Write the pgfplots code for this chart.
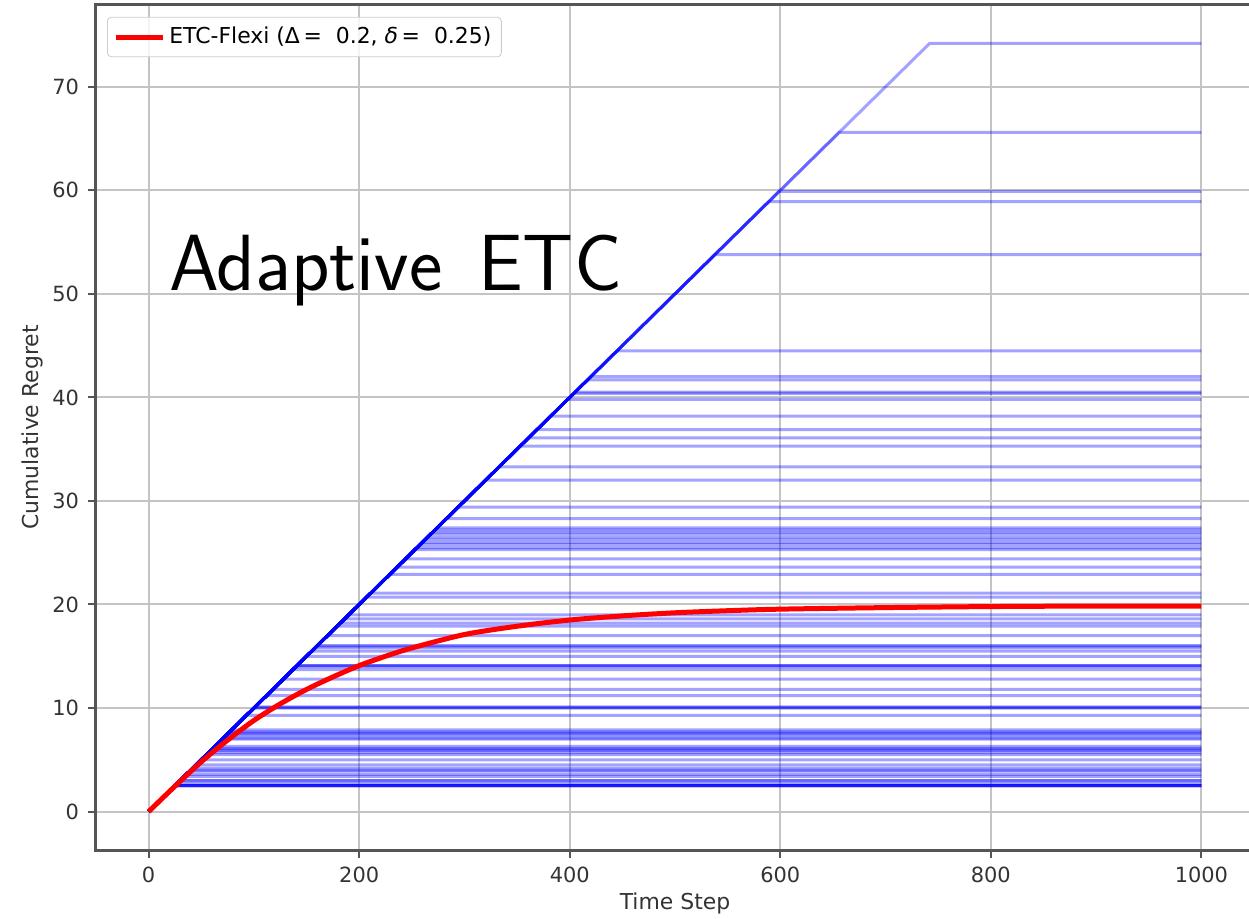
\documentclass[border=0pt]{standalone}
\usepackage{fontspec}
\setmainfont{DejaVu Sans}
\usepackage{pgfplots}
\pgfplotsset{compat=1.18}
\definecolor{gridgray}{HTML}{C4C4C4}
\definecolor{spine}{HTML}{555555}
\begin{document}
\begin{tikzpicture}
\begin{axis}[
  scale only axis,
  at={(48bp,34.5bp)}, anchor=south west,
  width=579bp, height=422.5bp,
  xmin=-50, xmax=1050, ymin=-3.71, ymax=77.9,
  xtick={0,200,400,600,800,1000},
  ytick={0,10,20,30,40,50,60,70},
  xtick pos=bottom, ytick pos=left,
  grid=major,
  major grid style={gridgray, line width=1bp},
  axis line style={spine, line width=1.5bp},
  tick style={spine, line width=1bp},
  tick align=outside,
  major tick length=4bp,
  /pgf/number format/assume math mode=true,
  /pgf/number format/1000 sep={},
  tick label style={font=\fontsize{10.5}{12}\selectfont, text=black!80},
  xticklabel style={yshift=-1bp},
  yticklabel style={xshift=-1bp},
  xlabel={Time Step}, ylabel={Cumulative Regret},
  label style={font=\fontsize{11}{13}\selectfont, text=black!80},
  xlabel style={at={(axis description cs:0.5,-0.0627)}, anchor=center},
  ylabel style={at={(axis description cs:-0.0553,0.5)}, anchor=center},
  legend style={at={(0.0095,0.986)}, anchor=north west, draw=black!20, rounded corners=2bp,
    fill=white, fill opacity=0.8, text opacity=1, font=\fontsize{11}{13}\selectfont,
    inner xsep=3bp, inner ysep=3bp},
  legend cell align=left,
  legend image code/.code={\draw[#1, line width=2.5bp] (0bp,0bp) -- (23.5bp,0bp);},
  bl/.style={blue, opacity=0.36, line width=1.5bp, forget plot},
]
% high
\addplot[bl] coordinates {(0,0)(742,74.2)(1000,74.2)};
\addplot[bl] coordinates {(0,0)(656,65.6)(1000,65.6)};
\addplot[bl] coordinates {(0,0)(599,59.9)(1000,59.9)};
\addplot[bl] coordinates {(0,0)(589,58.9)(1000,58.9)};
\addplot[bl] coordinates {(0,0)(538,53.8)(1000,53.8)};
\addplot[bl] coordinates {(0,0)(445,44.5)(1000,44.5)};
\addplot[bl] coordinates {(0,0)(420,42.0)(1000,42.0)};
\addplot[bl] coordinates {(0,0)(417,41.7)(1000,41.7)};
\addplot[bl] coordinates {(0,0)(405,40.5)(1000,40.5)};
\addplot[bl] coordinates {(0,0)(404,40.4)(1000,40.4)};
\addplot[bl] coordinates {(0,0)(398,39.8)(1000,39.8)};
\addplot[bl] coordinates {(0,0)(382,38.2)(1000,38.2)};
\addplot[bl] coordinates {(0,0)(369,36.9)(1000,36.9)};
\addplot[bl] coordinates {(0,0)(361,36.1)(1000,36.1)};
\addplot[bl] coordinates {(0,0)(353,35.3)(1000,35.3)};
\addplot[bl] coordinates {(0,0)(333,33.3)(1000,33.3)};
\addplot[bl] coordinates {(0,0)(320,32.0)(1000,32.0)};
% mid
\addplot[bl] coordinates {(0,0)(294,29.4)(1000,29.4)};
\addplot[bl] coordinates {(0,0)(283,28.3)(1000,28.3)};
\addplot[bl] coordinates {(0,0)(274,27.4)(1000,27.4)};
\addplot[bl] coordinates {(0,0)(272,27.2)(1000,27.2)};
\addplot[bl] coordinates {(0,0)(270,27.0)(1000,27.0)};
\addplot[bl] coordinates {(0,0)(268,26.8)(1000,26.8)};
\addplot[bl] coordinates {(0,0)(265,26.5)(1000,26.5)};
\addplot[bl] coordinates {(0,0)(263,26.3)(1000,26.3)};
\addplot[bl] coordinates {(0,0)(260,26.0)(1000,26.0)};
\addplot[bl] coordinates {(0,0)(258,25.8)(1000,25.8)};
\addplot[bl] coordinates {(0,0)(255,25.5)(1000,25.5)};
\addplot[bl] coordinates {(0,0)(253,25.3)(1000,25.3)};
\addplot[bl] coordinates {(0,0)(244,24.4)(1000,24.4)};
\addplot[bl] coordinates {(0,0)(236,23.6)(1000,23.6)};
\addplot[bl] coordinates {(0,0)(229,22.9)(1000,22.9)};
\addplot[bl] coordinates {(0,0)(211,21.1)(1000,21.1)};
\addplot[bl] coordinates {(0,0)(207,20.7)(1000,20.7)};
% low
\addplot[bl] coordinates {(0,0)(190,19.0)(1000,19.0)};
\addplot[bl] coordinates {(0,0)(186,18.6)(1000,18.6)};
\addplot[bl] coordinates {(0,0)(182,18.2)(1000,18.2)};
\addplot[bl] coordinates {(0,0)(179,17.9)(1000,17.9)};
\addplot[bl] coordinates {(0,0)(170,17.0)(1000,17.0)};
\addplot[bl] coordinates {(0,0)(160,16.0)(1000,16.0)};
\addplot[bl] coordinates {(0,0)(160,16.0)(1000,16.0)};
\addplot[bl] coordinates {(0,0)(158,15.8)(1000,15.8)};
\addplot[bl] coordinates {(0,0)(155,15.5)(1000,15.5)};
\addplot[bl] coordinates {(0,0)(150,15.0)(1000,15.0)};
\addplot[bl] coordinates {(0,0)(141,14.1)(1000,14.1)};
\addplot[bl] coordinates {(0,0)(141,14.1)(1000,14.1)};
\addplot[bl] coordinates {(0,0)(140,14.0)(1000,14.0)};
\addplot[bl] coordinates {(0,0)(137,13.7)(1000,13.7)};
\addplot[bl] coordinates {(0,0)(128,12.8)(1000,12.8)};
\addplot[bl] coordinates {(0,0)(118,11.8)(1000,11.8)};
\addplot[bl] coordinates {(0,0)(112,11.2)(1000,11.2)};
\addplot[bl] coordinates {(0,0)(101,10.1)(1000,10.1)};
\addplot[bl] coordinates {(0,0)(101,10.1)(1000,10.1)};
\addplot[bl] coordinates {(0,0)(100,10.0)(1000,10.0)};
% very low
\addplot[bl] coordinates {(0,0)(93,9.3)(1000,9.3)};
\addplot[bl] coordinates {(0,0)(79,7.9)(1000,7.9)};
\addplot[bl] coordinates {(0,0)(77,7.7)(1000,7.7)};
\addplot[bl] coordinates {(0,0)(76,7.6)(1000,7.6)};
\addplot[bl] coordinates {(0,0)(75,7.5)(1000,7.5)};
\addplot[bl] coordinates {(0,0)(73,7.3)(1000,7.3)};
\addplot[bl] coordinates {(0,0)(71,7.1)(1000,7.1)};
\addplot[bl] coordinates {(0,0)(70,7.0)(1000,7.0)};
\addplot[bl] coordinates {(0,0)(63,6.3)(1000,6.3)};
\addplot[bl] coordinates {(0,0)(61,6.1)(1000,6.1)};
\addplot[bl] coordinates {(0,0)(60,6.0)(1000,6.0)};
\addplot[bl] coordinates {(0,0)(59,5.9)(1000,5.9)};
\addplot[bl] coordinates {(0,0)(57,5.7)(1000,5.7)};
\addplot[bl] coordinates {(0,0)(55,5.5)(1000,5.5)};
\addplot[bl] coordinates {(0,0)(50,5.0)(1000,5.0)};
\addplot[bl] coordinates {(0,0)(45,4.5)(1000,4.5)};
\addplot[bl] coordinates {(0,0)(42,4.2)(1000,4.2)};
\addplot[bl] coordinates {(0,0)(40,4.0)(1000,4.0)};
\addplot[bl] coordinates {(0,0)(39,3.9)(1000,3.9)};
\addplot[bl] coordinates {(0,0)(36,3.6)(1000,3.6)};
\addplot[bl] coordinates {(0,0)(34,3.4)(1000,3.4)};
\addplot[bl] coordinates {(0,0)(30,3.0)(1000,3.0)};
\addplot[bl] coordinates {(0,0)(30,3.0)(1000,3.0)};
\addplot[bl] coordinates {(0,0)(27,2.7)(1000,2.7)};
\addplot[bl] coordinates {(0,0)(25,2.5)(1000,2.5)};
\addplot[bl] coordinates {(0,0)(25,2.5)(1000,2.5)};
\addplot[bl] coordinates {(0,0)(25,2.5)(1000,2.5)};
\addplot[bl] coordinates {(0,0)(25,2.5)(1000,2.5)};
\addplot[bl] coordinates {(0,0)(25,2.5)(1000,2.5)};
% mean
\addplot[red, line width=2.5bp, smooth] coordinates {
(0,0)(25,2.45)(50,4.8)(75,6.9)(100,8.8)(125,10.4)(150,11.8)(175,13.0)(200,14.1)
(225,15.0)(250,15.8)(300,17.1)(350,17.9)(400,18.5)(450,18.9)(500,19.2)(550,19.4)
(600,19.55)(700,19.7)(800,19.8)(900,19.85)(1000,19.85)};
\addlegendentry{ETC-Flexi (Δ\,=\ \ 0.2, \textit{δ}\,=\ \ 0.25)}
\node[anchor=base west, inner sep=0pt, font=\sffamily\fontsize{40}{48}\selectfont]
  at (axis cs:19,50.3) {Adaptive\hspace{0.45em}ETC};
\end{axis}
\pgfresetboundingbox
\path[use as bounding box] (0,0) rectangle (624.5bp,459.5bp);
\end{tikzpicture}
\end{document}
